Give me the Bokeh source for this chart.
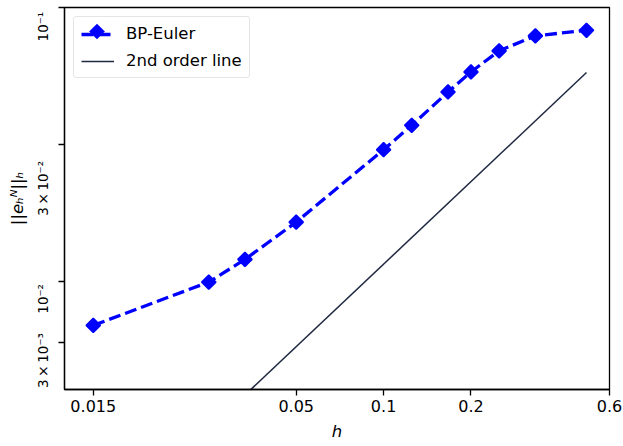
from math import pi

from bokeh.embed import file_html
from bokeh.models import FixedTicker, LogAxis, PolyAnnotation, Range1d
from bokeh.plotting import figure
from bokeh.resources import INLINE

# Convergence data: step size h and the discrete error ||e_h^N||_h
h = [0.01, 0.025, 0.0333, 0.05, 0.1, 0.125, 0.1667, 0.2, 0.25, 0.3333, 0.5]
err = [0.00693, 0.00997, 0.01206, 0.0165, 0.0303, 0.0372, 0.0492, 0.0582,
       0.0695, 0.0788, 0.0826]

# Reference line
ref_h = [0.01, 0.5]
ref_err = [0.00116, 0.0579]

# Axis ticks and their labels
xtick_vals = [0.01, 0.05, 0.1, 0.2, 0.6]
xtick_labels = ["0.015", "0.05", "0.1", "0.2", "0.6"]
ytick_vals = [0.1, 0.0316, 0.01, 0.006]
ytick_labels = ["10⁻¹", "3\u2009×\u200910⁻²", "10⁻²", "3\u2009×\u200910⁻³"]
ytick_label_pos = [0.0852, 0.0219, 0.00866, 0.00516]

FONT = "DejaVu Sans"

# Layout constants (pixels)
BORDER_L, BORDER_R, BORDER_T, BORDER_B = 64, 14, 7, 57
LEG_MARGIN, LEG_PAD, LEG_GLYPH_W, LEG_GLYPH_H = 9, 7, 33, 16
MARKER_SIZE = 10

p = figure(
    width=623, height=446,
    x_axis_type="log", y_axis_type="log",
    x_range=Range1d(0.00796, 0.6), y_range=Range1d(0.004045, 0.1),
    output_backend="svg", toolbar_location=None,
    min_border_left=BORDER_L, min_border_right=BORDER_R,
    min_border_top=BORDER_T, min_border_bottom=BORDER_B,
    background_fill_color="white", border_fill_color="white",
)
p.grid.visible = False
p.outline_line_color = "black"
p.outline_line_width = 1.3

# x axis
xa = p.xaxis[0]
xa.ticker = FixedTicker(ticks=xtick_vals, minor_ticks=[])
xa.major_label_overrides = {v: s for v, s in zip(xtick_vals, xtick_labels)}
xa.major_tick_out = 6
xa.major_tick_in = 0
xa.minor_tick_out = 0
xa.minor_tick_in = 0
xa.major_tick_line_width = 1.3
xa.axis_line_width = 1.3
xa.major_label_standoff = 4
xa.major_label_text_font = FONT
xa.major_label_text_font_size = "16px"
xa.major_label_text_color = "black"
xa.axis_label = "h"
xa.axis_label_text_font = FONT
xa.axis_label_text_font_size = "16.5px"
xa.axis_label_text_font_style = "italic"
xa.axis_label_text_color = "black"
xa.axis_label_standoff = 7

# y axis: tick marks only
ya = p.yaxis[0]
ya.ticker = FixedTicker(ticks=ytick_vals, minor_ticks=[])
ya.major_label_overrides = {v: "" for v in ytick_vals}
ya.major_label_text_font_size = "0px"
ya.major_label_standoff = 0
ya.major_tick_out = 6
ya.major_tick_in = 0
ya.minor_tick_out = 0
ya.minor_tick_in = 0
ya.major_tick_line_width = 1.3
ya.axis_line_width = 1.3

# y axis: rotated tick labels and axis title
ylab = LogAxis(
    ticker=FixedTicker(ticks=ytick_label_pos, minor_ticks=[]),
    major_label_overrides={v: s for v, s in zip(ytick_label_pos, ytick_labels)},
    major_label_orientation="vertical",
    major_label_standoff=7,
    major_label_text_font=FONT,
    major_label_text_font_size="13.5px",
    major_label_text_color="black",
    major_tick_out=0, major_tick_in=0,
    minor_tick_out=0, minor_tick_in=0,
    major_tick_line_color=None, minor_tick_line_color=None,
    axis_line_color=None,
    axis_label="||eₕᴺ||ₕ",
    axis_label_text_font=FONT,
    axis_label_text_font_size="16.5px",
    axis_label_text_color="black",
    axis_label_standoff=6,
)
p.add_layout(ylab, "left")

# BP-Euler errors: dashed line with diamond markers
p.line(h, err, line_color="blue", line_width=3.3, line_dash="12 5",
       legend_label="BP-Euler")
p.scatter(h, err, marker="square", angle=pi / 4, size=MARKER_SIZE,
          fill_color="blue", line_color="blue", line_width=1.6)

# Reference slope line
p.line(ref_h, ref_err, line_color="#1f2840", line_width=1.5,
       legend_label="2nd order line")

# Legend box sits over an empty, white part of the frame, so no fill is needed
leg = p.legend[0]
leg.location = "top_left"
leg.margin = LEG_MARGIN
leg.padding = LEG_PAD
leg.spacing = 8
leg.glyph_width = LEG_GLYPH_W
leg.glyph_height = LEG_GLYPH_H
leg.label_height = 16
leg.label_standoff = 12
leg.label_text_font = FONT
leg.label_text_font_size = "16.5px"
leg.label_text_color = "black"
leg.border_line_color = "#cccccc"
leg.border_line_width = 1
leg.border_radius = 3
leg.background_fill_color = None

# Diamond marker for the first legend entry (legend glyphs ignore marker angle)
cx = BORDER_L + LEG_MARGIN + LEG_PAD + LEG_GLYPH_W / 2
cy = BORDER_T + LEG_MARGIN + LEG_PAD + LEG_GLYPH_H / 2
r = MARKER_SIZE / 2 * 2 ** 0.5 + 0.8
p.add_layout(PolyAnnotation(
    xs=[cx, cx + r, cx, cx - r], ys=[cy - r, cy, cy + r, cy],
    xs_units="canvas", ys_units="canvas", level="overlay",
    fill_color="blue", fill_alpha=1.0, line_color="blue", line_width=0,
))

open("out.html", "w").write(file_html(p, INLINE))
